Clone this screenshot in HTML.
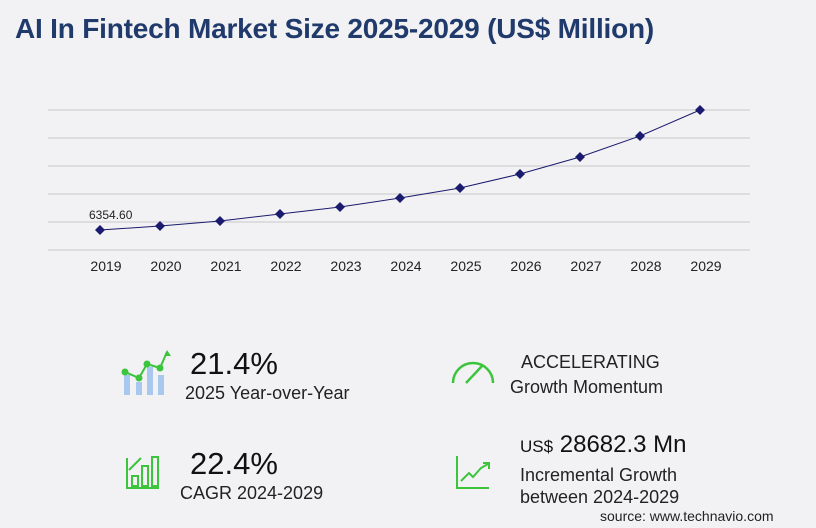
<!DOCTYPE html>
<html><head><style>
body{margin:0;width:816px;height:528px;background:#f2f2f4;font-family:"Liberation Sans",sans-serif;overflow:hidden;position:relative}
.t{position:absolute;white-space:nowrap}
</style></head><body>
<div class="t" style="left:15px;top:13px;font-size:28px;font-weight:bold;color:#1f3a6b;letter-spacing:-0.2px">AI In Fintech Market Size 2025-2029 (US$ Million)</div>
<svg width="816" height="528" style="position:absolute;left:0;top:0">
<g stroke="#c8c8cc" stroke-width="1">
<line x1="48" x2="750" y1="110" y2="110"/><line x1="48" x2="750" y1="138" y2="138"/>
<line x1="48" x2="750" y1="166" y2="166"/><line x1="48" x2="750" y1="194" y2="194"/>
<line x1="48" x2="750" y1="222" y2="222"/><line x1="48" x2="750" y1="250" y2="250"/>
</g>
<polyline fill="none" stroke="#1a1a6e" stroke-width="1" points="100,230 160,226 220,221 280,214 340,207 400,198 460,188 520,174 580,157 640,136 700,110"/>
<g fill="#1a1a6e">
<path d="M100,225l5,5l-5,5l-5,-5z"/><path d="M160,221l5,5l-5,5l-5,-5z"/><path d="M220,216l5,5l-5,5l-5,-5z"/><path d="M280,209l5,5l-5,5l-5,-5z"/><path d="M340,202l5,5l-5,5l-5,-5z"/><path d="M400,193l5,5l-5,5l-5,-5z"/><path d="M460,183l5,5l-5,5l-5,-5z"/><path d="M520,169l5,5l-5,5l-5,-5z"/><path d="M580,152l5,5l-5,5l-5,-5z"/><path d="M640,131l5,5l-5,5l-5,-5z"/><path d="M700,105l5,5l-5,5l-5,-5z"/>
</g>
<text x="89" y="219" font-size="12" fill="#222" font-family="Liberation Sans Narrow, Liberation Sans, sans-serif">6354.60</text>
<g font-size="14" fill="#222" text-anchor="middle" font-family="Liberation Sans, sans-serif">
<text x="106" y="271">2019</text><text x="166" y="271">2020</text><text x="226" y="271">2021</text><text x="286" y="271">2022</text><text x="346" y="271">2023</text><text x="406" y="271">2024</text><text x="466" y="271">2025</text><text x="526" y="271">2026</text><text x="586" y="271">2027</text><text x="646" y="271">2028</text><text x="706" y="271">2029</text>
</g>
<g fill="#a9c8f0"><rect x="124" y="375" width="6" height="20"/><rect x="136" y="382" width="6" height="13"/><rect x="147" y="367" width="6" height="28"/><rect x="158" y="375" width="6" height="20"/></g>
<polyline points="125,372 139,378 147,364 160,368 167,352" fill="none" stroke="#3cc43c" stroke-width="2"/>
<g fill="#3cc43c"><circle cx="125" cy="372" r="3.5"/><circle cx="139" cy="378" r="3.5"/><circle cx="147" cy="364" r="3.5"/><circle cx="160" cy="368" r="3.5"/><path d="M167,350l4,6h-7z"/></g>
<g fill="none" stroke="#3cc43c" stroke-width="2.5"><path d="M453,383a20,20 0 0 1 40,0"/><path d="M466,383l16,-17"/></g>
<g fill="none" stroke="#3cc43c" stroke-width="2"><path d="M127,458v30h32"/><rect x="132" y="476" width="6" height="10"/><rect x="142" y="466" width="6" height="20"/><rect x="152" y="457" width="6" height="29"/><path d="M129,470l12,-12"/></g>
<g fill="none" stroke="#3cc43c" stroke-width="2"><path d="M457,456v32h32"/><polyline points="461,481 469,473 473,477 481,468 488,464"/><path d="M483,463h6v6"/></g>
</svg>
<div class="t" style="left:190px;top:346px;font-size:31px;color:#111">21.4%</div>
<div class="t" style="left:185px;top:383px;font-size:18px;color:#222">2025 Year-over-Year</div>
<div class="t" style="left:521px;top:352px;font-size:18px;color:#222">ACCELERATING</div>
<div class="t" style="left:510px;top:377px;font-size:18px;color:#222">Growth Momentum</div>
<div class="t" style="left:190px;top:446px;font-size:31px;color:#111">22.4%</div>
<div class="t" style="left:180px;top:483px;font-size:18px;color:#222">CAGR 2024-2029</div>
<div class="t" style="left:520px;top:431px;font-size:24px;color:#111"><span style="font-size:17px">US$</span> 28682.3 Mn</div>
<div class="t" style="left:520px;top:465px;font-size:18px;color:#222">Incremental Growth</div>
<div class="t" style="left:520px;top:487px;font-size:18px;color:#222">between 2024-2029</div>
<div class="t" style="left:600px;top:508px;font-size:14px;color:#222">source: www.technavio.com</div>
</body></html>
